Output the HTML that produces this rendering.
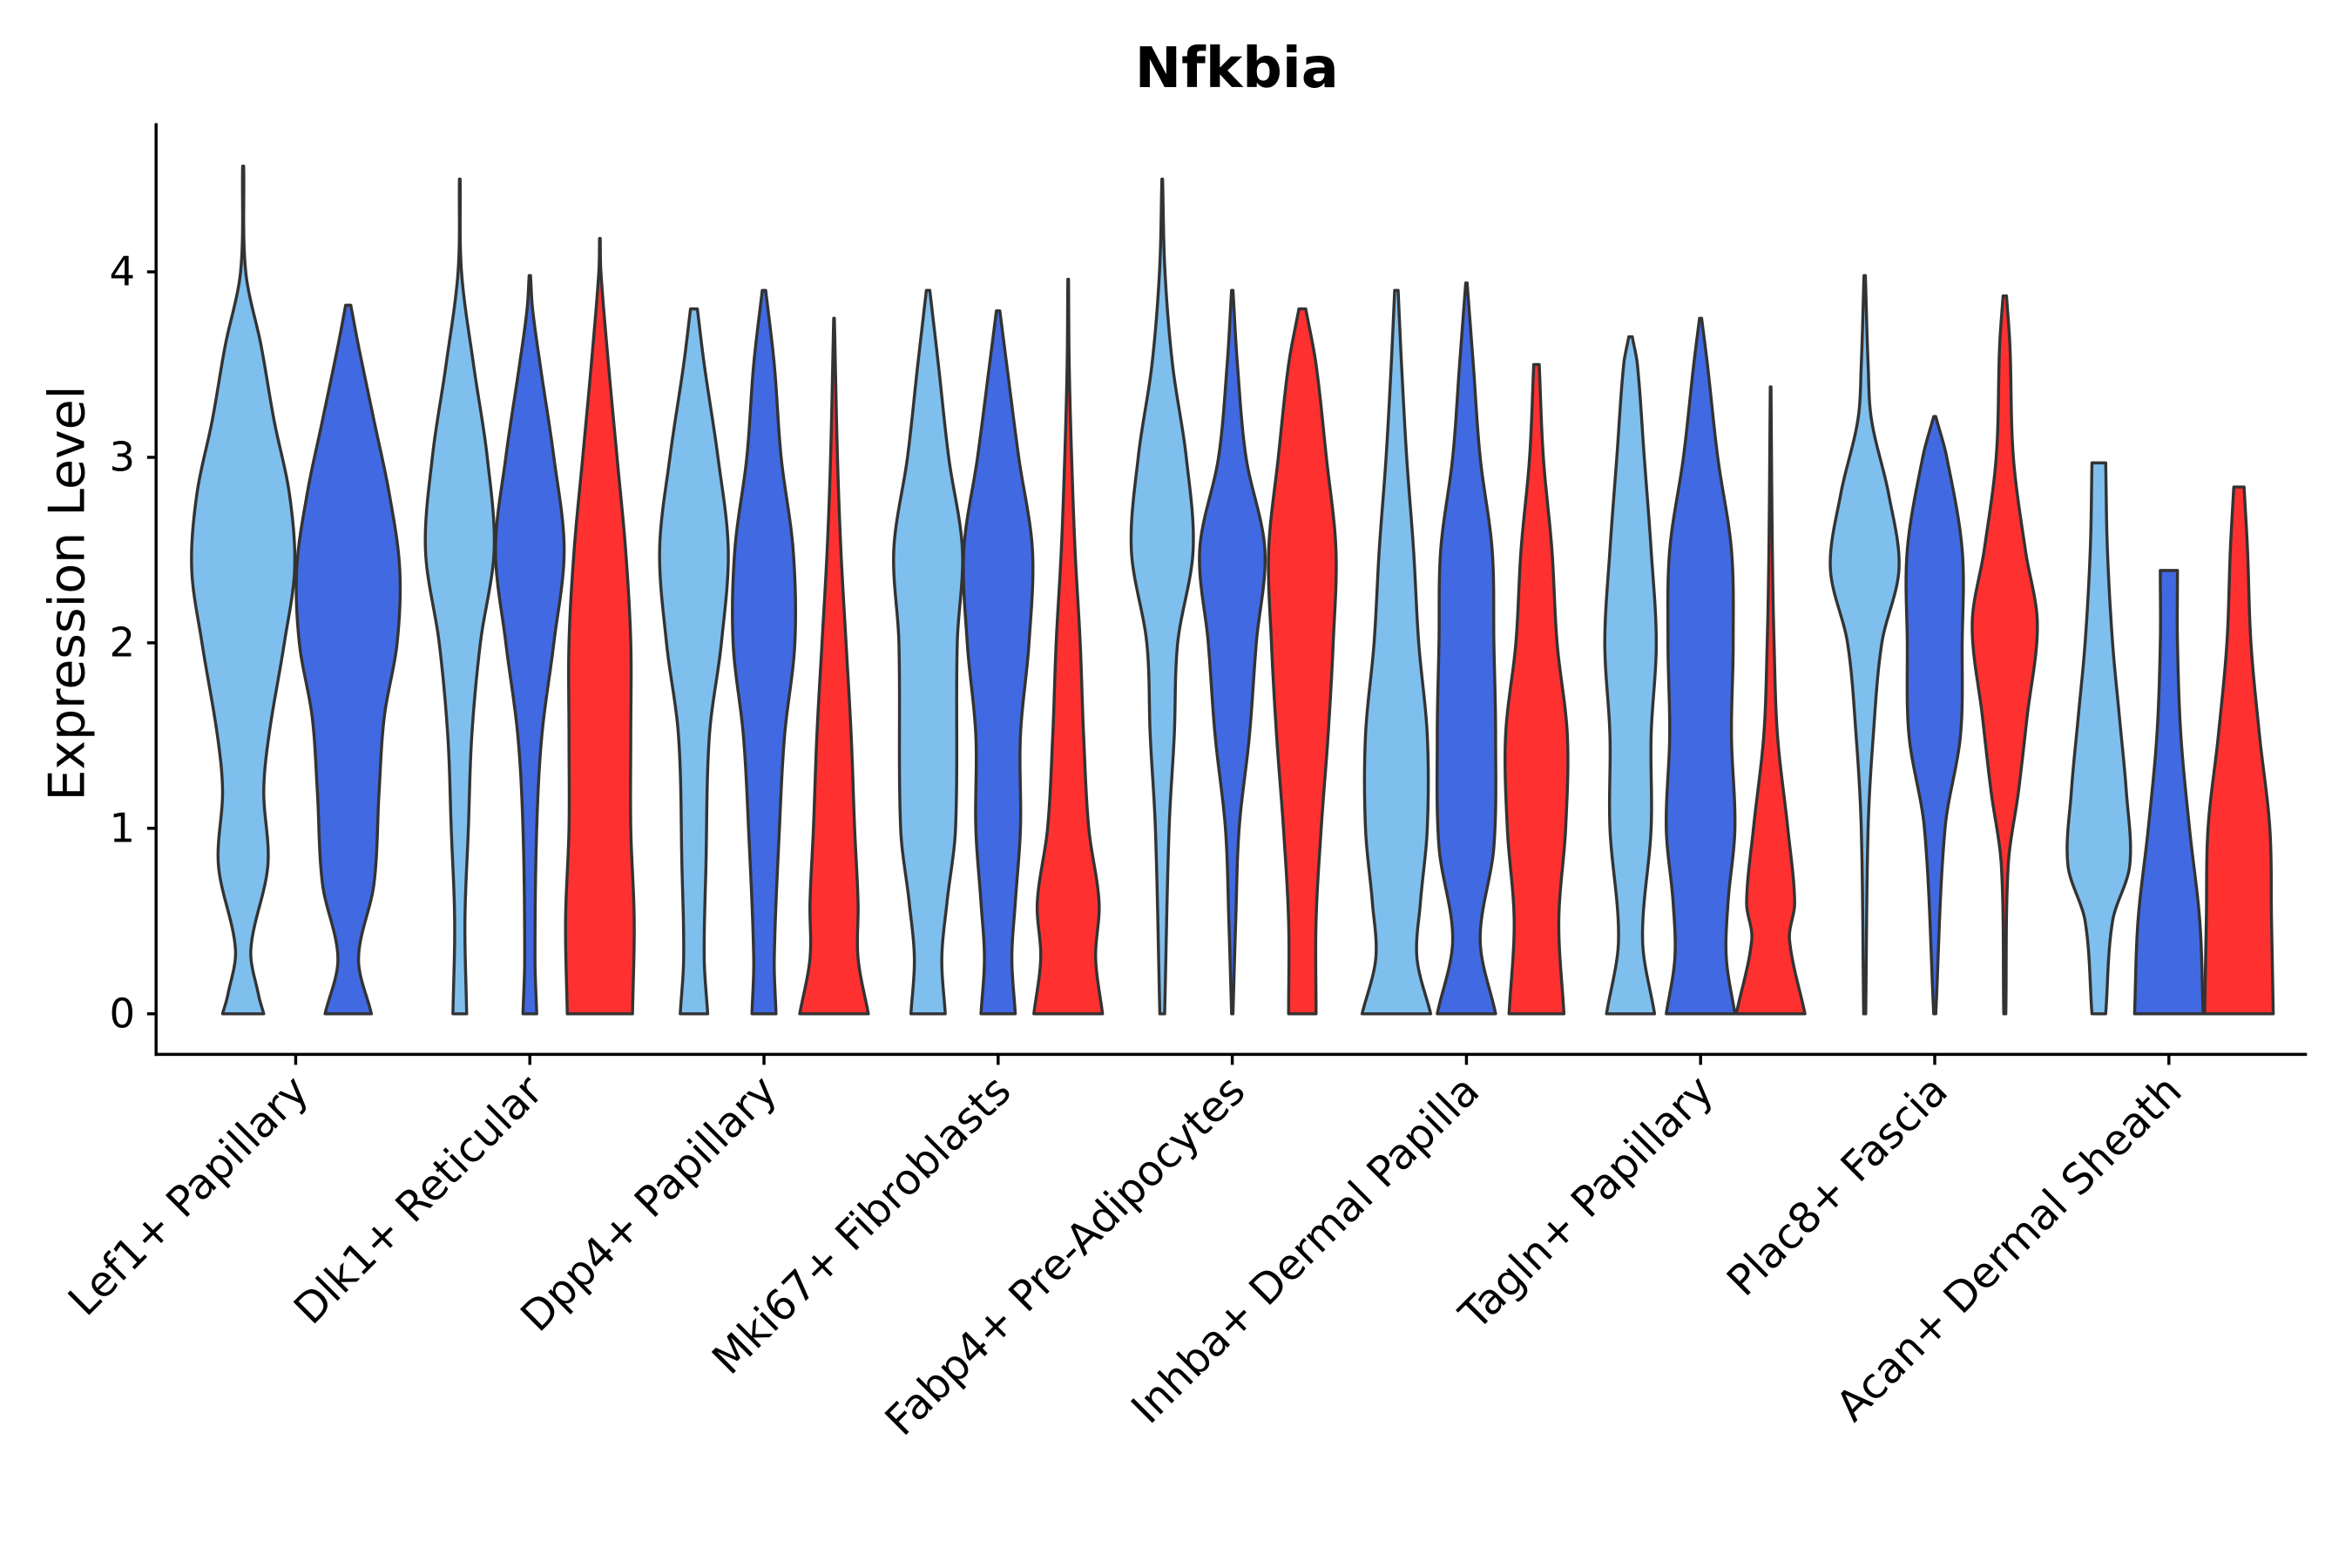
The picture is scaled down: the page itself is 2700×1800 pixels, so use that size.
<!DOCTYPE html>
<html><head><meta charset="utf-8"><style>
html,body{margin:0;padding:0;background:#fff;}
svg{display:block;font-family:"DejaVu Sans","Liberation Sans",sans-serif;}
</style></head><body>
<svg id="chart" width="2700" height="1800" viewBox="0 0 1567 1044" preserveAspectRatio="none">
<rect x="0" y="0" width="1567" height="1044" fill="#fff"/>
<text x="824" y="58" text-anchor="middle" font-size="37" font-weight="bold">Nfkbia</text>
<text transform="translate(56,395) rotate(-90)" text-anchor="middle" font-size="33">Expression Level</text>
<g id="violins"></g>
<g id="axes"></g>
</svg>
<script>
const categories = ["Lef1+ Papillary","Dlk1+ Reticular","Dpp4+ Papillary","Mki67+ Fibroblasts","Fabp4+ Pre-Adipocytes","Inhba+ Dermal Papilla","Tagln+ Papillary","Plac8+ Fascia","Acan+ Dermal Sheath"];
const groupsPerCategory = [2,3,3,3,3,3,3,3,3];
const seriesColors = ["#7FBFEE","#4169E1","#FF3030"];
const yTicks = [0,1,2,3,4];
const violinMax = [
 [4.57,3.82],[4.5,3.98,4.18],[3.8,3.9,3.75],[3.9,3.79,3.96],[4.5,3.9,3.8],[3.9,3.94,3.5],[3.65,3.75,3.38],[3.98,3.22,3.87],[2.97,2.39,2.84]
];
const violinProfiles = [
 [[[0,0.4],[0.1,0.3],[0.35,0.15],[0.8,0.48],[1.2,0.4],[1.5,0.5],[2,0.8],[2.4,1],[2.8,0.9],[3.2,0.6],[3.6,0.35],[4,0.05],[4.57,0.01]],
  [[0,0.45],[0.3,0.2],[0.7,0.5],[1.2,0.6],[1.6,0.7],[2,0.95],[2.4,1],[2.8,0.8],[3.2,0.5],[3.6,0.2],[3.82,0.05]]],
 [[[0,0.2],[0.5,0.15],[1,0.25],[1.5,0.35],[2,0.6],[2.5,1],[3,0.8],[3.5,0.4],[4,0.05],[4.5,0.01]],
  [[0,0.2],[0.3,0.15],[1,0.2],[1.5,0.35],[2,0.7],[2.5,1],[3,0.7],[3.5,0.3],[3.8,0.08],[3.98,0.02]],
  [[0,0.95],[0.5,1],[1,0.9],[1.5,0.9],[2,0.9],[2.5,0.75],[3,0.5],[3.5,0.25],[4,0.03],[4.18,0.01]]],
 [[[0,0.4],[0.3,0.3],[0.8,0.35],[1.5,0.45],[2,0.8],[2.5,1],[3,0.7],[3.5,0.3],[3.8,0.1]],
  [[0,0.35],[0.3,0.3],[1,0.45],[1.5,0.6],[2,0.9],[2.5,0.85],[3,0.5],[3.5,0.3],[3.9,0.05]],
  [[0,1],[0.3,0.7],[0.6,0.7],[1,0.6],[1.5,0.5],[2,0.35],[2.5,0.2],[3,0.1],[3.75,0.01]]],
 [[[0,0.5],[0.3,0.4],[0.6,0.55],[1,0.8],[2,0.85],[2.5,1],[3,0.6],[3.5,0.3],[3.9,0.05]],
  [[0,0.5],[0.3,0.4],[0.6,0.5],[1,0.65],[1.5,0.65],[2,0.9],[2.5,1],[3,0.6],[3.5,0.25],[3.79,0.05]],
  [[0,1],[0.3,0.8],[0.6,0.9],[1,0.6],[1.5,0.45],[2,0.35],[2.5,0.2],[3,0.1],[3.5,0.03],[3.96,0.01]]],
 [[[0,0.07],[1,0.2],[1.5,0.35],[2,0.45],[2.5,0.9],[3,0.7],[3.5,0.3],[4,0.08],[4.5,0.01]],
  [[0,0.02],[0.5,0.1],[1,0.2],[1.5,0.5],[2,0.7],[2.5,0.95],[3,0.4],[3.5,0.15],[3.9,0.02]],
  [[0,0.4],[0.5,0.4],[1,0.55],[1.5,0.75],[2,0.9],[2.5,0.98],[3,0.7],[3.5,0.4],[3.8,0.1]]],
 [[[0,1],[0.3,0.6],[0.6,0.7],[1,0.9],[1.5,0.9],[2,0.65],[2.5,0.5],[3,0.3],[3.5,0.15],[3.9,0.05]],
  [[0,0.85],[0.4,0.4],[0.9,0.8],[1.5,0.85],[2,0.8],[2.5,0.75],[3,0.4],[3.5,0.2],[3.94,0.02]],
  [[0,0.8],[0.5,0.65],[1,0.85],[1.5,0.9],[2,0.6],[2.5,0.45],[3,0.2],[3.5,0.08]]],
 [[[0,0.7],[0.4,0.35],[1,0.6],[1.5,0.6],[2,0.75],[2.5,0.6],[3,0.4],[3.5,0.2],[3.65,0.05]],
  [[0,1],[0.3,0.75],[0.6,0.8],[1,1],[1.5,0.9],[2,0.95],[2.5,0.9],[3,0.5],[3.5,0.2],[3.75,0.03]],
  [[0,1],[0.4,0.55],[0.6,0.7],[1,0.5],[1.5,0.2],[2,0.1],[2.5,0.05],[3.38,0.01]]],
 [[[0,0.03],[1,0.1],[1.5,0.25],[2,0.5],[2.4,1],[2.8,0.7],[3.2,0.2],[3.5,0.1],[3.98,0.02]],
  [[0,0.03],[1,0.3],[1.5,0.75],[2,0.8],[2.5,0.8],[3,0.35],[3.22,0.03]],
  [[0,0.03],[0.8,0.1],[1.2,0.4],[1.6,0.65],[2.1,0.95],[2.5,0.6],[3,0.25],[3.6,0.15],[3.87,0.05]]],
 [[[0,0.2],[0.5,0.4],[0.8,0.9],[1.2,0.8],[1.6,0.6],[2,0.4],[2.5,0.25],[2.97,0.2]],
  [[0,1],[0.5,0.9],[1,0.6],[1.5,0.35],[2,0.25],[2.39,0.25]],
  [[0,1],[0.5,0.95],[1,0.9],[1.5,0.6],[2,0.35],[2.5,0.25],[2.84,0.15]]]
];
const NS="http://www.w3.org/2000/svg";
const X0=104,X1=1537,YTOP=82,YAX=702;
const yScale=v=>675-v*123.5;
const xScale=i=>197+i*156;
const slot=140;
function mk(tag,attrs,parent){const e=document.createElementNS(NS,tag);for(const k in attrs)e.setAttribute(k,attrs[k]);parent.appendChild(e);return e;}
const vg=document.getElementById('violins');
categories.forEach((c,ci)=>{
  const n=groupsPerCategory[ci];const w=slot/n;
  for(let g=0;g<n;g++){
    const cx=xScale(ci)-slot/2+w*(g+0.5);
    const hw=w/2*0.98;
    const prof=violinProfiles[ci][g];
    const top=violinMax[ci][g];
    const pts=[];
    const N=prof.length;
    for(let k=0;k<N-1;k++){
      const p0=prof[Math.max(0,k-1)],p1=prof[k],p2=prof[k+1],p3=prof[Math.min(N-1,k+2)];
      const m1=(p2[1]-p0[1])/((p2[0]-p0[0])||1)*(p2[0]-p1[0]);
      const m2=(p3[1]-p1[1])/((p3[0]-p1[0])||1)*(p2[0]-p1[0]);
      for(let s=0;s<16;s++){
        const t=s/16,t2=t*t,t3=t2*t;
        const v=(2*t3-3*t2+1)*p1[1]+(t3-2*t2+t)*m1+(-2*t3+3*t2)*p2[1]+(t3-t2)*m2;
        pts.push([p1[0]+(p2[0]-p1[0])*t,Math.max(0.008,v)]);
      }
    }
    pts.push([top,prof[N-1][1]]);
    let d='M'+(cx-pts[0][1]*hw).toFixed(2)+','+yScale(pts[0][0]).toFixed(2);
    pts.forEach(p=>{d+='L'+(cx-p[1]*hw).toFixed(2)+','+yScale(p[0]).toFixed(2);});
    for(let k=pts.length-1;k>=0;k--){const p=pts[k];d+='L'+(cx+p[1]*hw).toFixed(2)+','+yScale(p[0]).toFixed(2);}
    d+='Z';
    const el=mk('path',{d:d,fill:seriesColors[g],stroke:'#333','stroke-width':2,'stroke-linejoin':'round'},vg);
    
    
  }
});
const ag=document.getElementById('axes');
let l=mk('line',{x1:X0,y1:YTOP,x2:X0,y2:YAX+1,stroke:'#000','stroke-width':2},ag);


l=mk('line',{x1:X0-1,y1:YAX,x2:X1,y2:YAX,stroke:'#000','stroke-width':2},ag);


yTicks.forEach(t=>{
  const y=yScale(t);
  const tk=mk('line',{x1:X0-6,y1:y,x2:X0,y2:y,stroke:'#000','stroke-width':2},ag);
  
  
  const tx=mk('text',{x:X0-14,y:y+9,'text-anchor':'end','font-size':27},ag);
  tx.textContent=t;
  
  
});
categories.forEach((c,i)=>{
  const x=xScale(i);
  const tk=mk('line',{x1:x,y1:YAX,x2:x,y2:YAX+7,stroke:'#000','stroke-width':2},ag);
  
  
  const tx=mk('text',{transform:'translate('+(x+10)+','+(YAX+26)+') rotate(-45)','text-anchor':'end','font-size':28},ag);
  tx.textContent=c;
  
  
});
</script>
</body></html>
